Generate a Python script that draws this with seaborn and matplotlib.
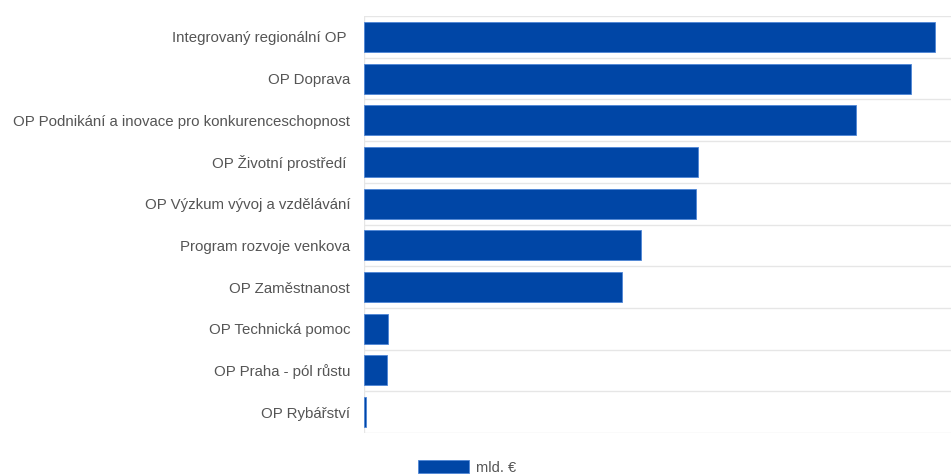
import matplotlib

matplotlib.use("Agg")
import matplotlib.pyplot as plt
import pandas as pd
import seaborn as sns

PROGRAMS = [
    "Integrovaný regionální OP ",
    "OP Doprava",
    "OP Podnikání a inovace pro konkurenceschopnost",
    "OP Životní prostředí ",
    "OP Výzkum vývoj a vzdělávání",
    "Program rozvoje venkova",
    "OP Zaměstnanost",
    "OP Technická pomoc",
    "OP Praha - pól růstu",
    "OP Rybářství",
]
VALUES_BN_EUR = [5.03, 4.82, 4.33, 2.94, 2.92, 2.44, 2.27, 0.21, 0.20, 0.02]
SERIES_NAME = "mld. €"

BAR_COLOR = "#0046A6"
TEXT_COLOR = "#555555"
GRID_COLOR = "#e6e6e6"


def main() -> None:
    df = pd.DataFrame({"program": PROGRAMS, SERIES_NAME: VALUES_BN_EUR})

    sns.set_theme(style="white")
    plt.rcParams["font.family"] = ["Liberation Sans", "DejaVu Sans"]

    fig = plt.figure(figsize=(9.51, 4.76), dpi=100)
    ax = fig.add_axes([0.3827, 0.0903, 0.6173, 0.8760])

    sns.barplot(
        data=df,
        y="program",
        x=SERIES_NAME,
        orient="h",
        color=BAR_COLOR,
        saturation=1,
        width=0.72,
        edgecolor="#4f86d6",
        linewidth=0.6,
        label=SERIES_NAME,
        legend=False,
        ax=ax,
    )

    ax.set_xlim(0, 5.17)
    ax.set_ylim(len(PROGRAMS) - 0.5, -0.5)

    # separators between categories
    for i in range(len(PROGRAMS) + 1):
        ax.axhline(i - 0.5, color=GRID_COLOR, linewidth=1, zorder=0)
    ax.axvline(0, color=GRID_COLOR, linewidth=1, zorder=0)

    for side in ["top", "right", "bottom", "left"]:
        ax.spines[side].set_visible(False)

    ax.set_xlabel("")
    ax.set_ylabel("")
    ax.set_xticks([])
    ax.tick_params(axis="y", length=0, pad=10, labelsize=10.8, labelcolor=TEXT_COLOR)

    handles, labels = ax.get_legend_handles_labels()
    fig.legend(
        handles[:1],
        labels[:1],
        loc="upper center",
        bbox_to_anchor=(0.491, 0.048),
        frameon=False,
        fontsize=10.5,
        labelcolor=TEXT_COLOR,
        handlelength=3.5,
        handleheight=1.0,
        handletextpad=0.5,
        borderpad=0,
    )

    fig.savefig("out.png", dpi=100)
    plt.close(fig)


if __name__ == "__main__":
    main()
